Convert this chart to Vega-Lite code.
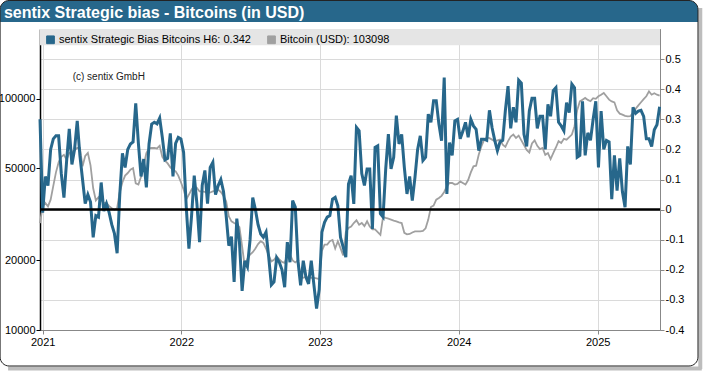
{
  "$schema": "https://vega.github.io/schema/vega-lite/v6.json",
  "background": "white",
  "width": 620,
  "height": 301,
  "autosize": {"type": "none"},
  "padding": {"left": 40, "top": 29, "right": 50, "bottom": 46},
  "config": {
    "font": "Liberation Sans",
    "view": {"stroke": "#888888"},
    "axis": {"labelFont": "Liberation Sans", "labelFontSize": 11, "labelColor": "#000000", "tickSize": 4, "labelPadding": 1, "title": null, "labelOverlap": false}
  },
  "data": {"values": [
    {"d":"2020-12-25","s":0.30,"b":29000},
    {"d":"2021-01-01","s":-0.01,"b":34200},
    {"d":"2021-01-08","s":0.11,"b":35400},
    {"d":"2021-01-15","s":0.08,"b":34200},
    {"d":"2021-01-22","s":0.20,"b":36600},
    {"d":"2021-01-29","s":0.235,"b":42000},
    {"d":"2021-02-05","s":0.245,"b":48000},
    {"d":"2021-02-12","s":0.245,"b":53000},
    {"d":"2021-02-19","s":0.12,"b":56000},
    {"d":"2021-02-26","s":0.04,"b":57200},
    {"d":"2021-03-05","s":0.16,"b":54500},
    {"d":"2021-03-12","s":0.268,"b":58200},
    {"d":"2021-03-19","s":0.15,"b":58800},
    {"d":"2021-03-26","s":0.20,"b":60000},
    {"d":"2021-04-02","s":0.295,"b":61200},
    {"d":"2021-04-09","s":0.18,"b":61200},
    {"d":"2021-04-16","s":0.10,"b":51000},
    {"d":"2021-04-23","s":0.02,"b":56500},
    {"d":"2021-04-30","s":0.05,"b":58200},
    {"d":"2021-05-07","s":0.025,"b":51500},
    {"d":"2021-05-14","s":-0.092,"b":41000},
    {"d":"2021-05-21","s":-0.02,"b":36300},
    {"d":"2021-05-28","s":-0.025,"b":37500},
    {"d":"2021-06-04","s":0.09,"b":36500},
    {"d":"2021-06-11","s":-0.005,"b":35400},
    {"d":"2021-06-18","s":0.02,"b":35400},
    {"d":"2021-06-25","s":-0.01,"b":34300},
    {"d":"2021-07-02","s":-0.05,"b":33600},
    {"d":"2021-07-09","s":-0.08,"b":33100},
    {"d":"2021-07-16","s":-0.145,"b":33600},
    {"d":"2021-07-23","s":0.05,"b":39500},
    {"d":"2021-07-30","s":0.187,"b":43500},
    {"d":"2021-08-06","s":0.14,"b":46500},
    {"d":"2021-08-13","s":0.20,"b":47700},
    {"d":"2021-08-20","s":0.218,"b":49300},
    {"d":"2021-08-27","s":0.225,"b":50100},
    {"d":"2021-09-03","s":0.353,"b":43000},
    {"d":"2021-09-10","s":0.22,"b":42500},
    {"d":"2021-09-17","s":0.11,"b":46000},
    {"d":"2021-09-24","s":0.168,"b":51500},
    {"d":"2021-10-01","s":0.074,"b":58200},
    {"d":"2021-10-08","s":0.218,"b":61000},
    {"d":"2021-10-15","s":0.284,"b":61200},
    {"d":"2021-10-22","s":0.29,"b":61200},
    {"d":"2021-10-29","s":0.285,"b":60900},
    {"d":"2021-11-05","s":0.304,"b":62600},
    {"d":"2021-11-12","s":0.24,"b":56000},
    {"d":"2021-11-19","s":0.165,"b":54000},
    {"d":"2021-11-26","s":0.17,"b":52500},
    {"d":"2021-12-03","s":0.253,"b":50500},
    {"d":"2021-12-10","s":0.11,"b":49300},
    {"d":"2021-12-17","s":0.22,"b":48500},
    {"d":"2021-12-24","s":0.24,"b":46500},
    {"d":"2021-12-31","s":0.235,"b":43500},
    {"d":"2022-01-07","s":0.19,"b":40500},
    {"d":"2022-01-14","s":0.008,"b":36700},
    {"d":"2022-01-21","s":-0.13,"b":38500},
    {"d":"2022-01-28","s":-0.02,"b":40500},
    {"d":"2022-02-04","s":0.113,"b":41800},
    {"d":"2022-02-11","s":0.02,"b":41100},
    {"d":"2022-02-18","s":-0.108,"b":39700},
    {"d":"2022-02-25","s":0.08,"b":39700},
    {"d":"2022-03-04","s":0.13,"b":39500},
    {"d":"2022-03-11","s":0.02,"b":39100},
    {"d":"2022-03-18","s":0.14,"b":39300},
    {"d":"2022-03-25","s":0.157,"b":39700},
    {"d":"2022-04-01","s":0.05,"b":40000},
    {"d":"2022-04-08","s":0.08,"b":40400},
    {"d":"2022-04-15","s":0.10,"b":39500},
    {"d":"2022-04-22","s":0.06,"b":38000},
    {"d":"2022-04-29","s":-0.02,"b":36000},
    {"d":"2022-05-06","s":-0.12,"b":31000},
    {"d":"2022-05-13","s":-0.09,"b":29500},
    {"d":"2022-05-20","s":-0.24,"b":29000},
    {"d":"2022-05-27","s":-0.03,"b":28600},
    {"d":"2022-06-03","s":-0.108,"b":27800},
    {"d":"2022-06-10","s":-0.27,"b":23000},
    {"d":"2022-06-17","s":-0.17,"b":18800},
    {"d":"2022-06-24","s":-0.19,"b":20300},
    {"d":"2022-07-01","s":-0.10,"b":21200},
    {"d":"2022-07-08","s":0.04,"b":21700},
    {"d":"2022-07-15","s":0.0,"b":22500},
    {"d":"2022-07-22","s":-0.05,"b":23500},
    {"d":"2022-07-29","s":-0.081,"b":24200},
    {"d":"2022-08-05","s":-0.092,"b":23800},
    {"d":"2022-08-12","s":-0.075,"b":22500},
    {"d":"2022-08-19","s":-0.158,"b":21000},
    {"d":"2022-08-26","s":-0.25,"b":19800},
    {"d":"2022-09-02","s":-0.24,"b":20100},
    {"d":"2022-09-09","s":-0.16,"b":20800},
    {"d":"2022-09-16","s":-0.175,"b":20200},
    {"d":"2022-09-23","s":-0.20,"b":19700},
    {"d":"2022-09-30","s":-0.258,"b":19500},
    {"d":"2022-10-07","s":-0.108,"b":21000},
    {"d":"2022-10-14","s":-0.175,"b":21200},
    {"d":"2022-10-21","s":0.03,"b":20000},
    {"d":"2022-10-28","s":0.008,"b":19600},
    {"d":"2022-11-04","s":-0.17,"b":20000},
    {"d":"2022-11-11","s":-0.252,"b":17000},
    {"d":"2022-11-18","s":-0.17,"b":16800},
    {"d":"2022-11-25","s":-0.224,"b":17000},
    {"d":"2022-12-02","s":-0.247,"b":16900},
    {"d":"2022-12-09","s":-0.17,"b":16800},
    {"d":"2022-12-16","s":-0.25,"b":16800},
    {"d":"2022-12-23","s":-0.329,"b":16700},
    {"d":"2022-12-30","s":-0.265,"b":16600},
    {"d":"2023-01-06","s":-0.075,"b":22000},
    {"d":"2023-01-13","s":-0.042,"b":23400},
    {"d":"2023-01-20","s":-0.025,"b":23400},
    {"d":"2023-01-27","s":-0.02,"b":24200},
    {"d":"2023-02-03","s":0.035,"b":24500},
    {"d":"2023-02-10","s":0.041,"b":22500},
    {"d":"2023-02-17","s":0.013,"b":24200},
    {"d":"2023-02-24","s":-0.092,"b":22600},
    {"d":"2023-03-03","s":-0.125,"b":21000},
    {"d":"2023-03-10","s":-0.158,"b":26500},
    {"d":"2023-03-17","s":0.085,"b":27600},
    {"d":"2023-03-24","s":0.113,"b":28000},
    {"d":"2023-03-31","s":0.019,"b":29000},
    {"d":"2023-04-07","s":0.273,"b":29800},
    {"d":"2023-04-14","s":0.262,"b":28500},
    {"d":"2023-04-21","s":0.12,"b":29000},
    {"d":"2023-04-28","s":0.08,"b":28100},
    {"d":"2023-05-05","s":0.135,"b":29500},
    {"d":"2023-05-12","s":0.135,"b":28000},
    {"d":"2023-05-19","s":-0.064,"b":27200},
    {"d":"2023-05-26","s":0.207,"b":27200},
    {"d":"2023-06-02","s":0.212,"b":26500},
    {"d":"2023-06-09","s":-0.014,"b":25800},
    {"d":"2023-06-16","s":-0.025,"b":30800},
    {"d":"2023-06-23","s":0.135,"b":30500},
    {"d":"2023-06-30","s":0.251,"b":30300},
    {"d":"2023-07-07","s":0.135,"b":30000},
    {"d":"2023-07-14","s":0.174,"b":29700},
    {"d":"2023-07-21","s":0.312,"b":29500},
    {"d":"2023-07-28","s":0.218,"b":29200},
    {"d":"2023-08-04","s":0.25,"b":29000},
    {"d":"2023-08-11","s":0.14,"b":26300},
    {"d":"2023-08-18","s":0.052,"b":25900},
    {"d":"2023-08-25","s":0.11,"b":26000},
    {"d":"2023-09-01","s":0.03,"b":26400},
    {"d":"2023-09-08","s":0.107,"b":26700},
    {"d":"2023-09-15","s":0.20,"b":26700},
    {"d":"2023-09-22","s":0.245,"b":26700},
    {"d":"2023-09-29","s":0.163,"b":26800},
    {"d":"2023-10-06","s":0.174,"b":27500},
    {"d":"2023-10-13","s":0.317,"b":30000},
    {"d":"2023-10-20","s":0.29,"b":34000},
    {"d":"2023-10-27","s":0.362,"b":34500},
    {"d":"2023-11-03","s":0.362,"b":36600},
    {"d":"2023-11-10","s":0.284,"b":37200},
    {"d":"2023-11-17","s":0.229,"b":38000},
    {"d":"2023-11-24","s":0.439,"b":39500},
    {"d":"2023-12-01","s":0.052,"b":41800},
    {"d":"2023-12-08","s":0.223,"b":43200},
    {"d":"2023-12-15","s":0.18,"b":43200},
    {"d":"2023-12-22","s":0.295,"b":42500},
    {"d":"2023-12-29","s":0.30,"b":42800},
    {"d":"2024-01-05","s":0.235,"b":43900},
    {"d":"2024-01-12","s":0.26,"b":43200},
    {"d":"2024-01-19","s":0.29,"b":42500},
    {"d":"2024-01-26","s":0.24,"b":44500},
    {"d":"2024-02-02","s":0.30,"b":48000},
    {"d":"2024-02-09","s":0.278,"b":51000},
    {"d":"2024-02-16","s":0.267,"b":51300},
    {"d":"2024-02-23","s":0.196,"b":57300},
    {"d":"2024-03-01","s":0.234,"b":62300},
    {"d":"2024-03-08","s":0.234,"b":66300},
    {"d":"2024-03-15","s":0.23,"b":68000},
    {"d":"2024-03-22","s":0.33,"b":67500},
    {"d":"2024-03-29","s":0.272,"b":66500},
    {"d":"2024-04-05","s":0.23,"b":65500},
    {"d":"2024-04-12","s":0.196,"b":66000},
    {"d":"2024-04-19","s":0.225,"b":66500},
    {"d":"2024-04-26","s":0.23,"b":63200},
    {"d":"2024-05-03","s":0.33,"b":61900},
    {"d":"2024-05-10","s":0.41,"b":65500},
    {"d":"2024-05-17","s":0.27,"b":68500},
    {"d":"2024-05-24","s":0.34,"b":69900},
    {"d":"2024-05-31","s":0.29,"b":67600},
    {"d":"2024-06-07","s":0.43,"b":69200},
    {"d":"2024-06-14","s":0.42,"b":66000},
    {"d":"2024-06-21","s":0.25,"b":63000},
    {"d":"2024-06-28","s":0.21,"b":60000},
    {"d":"2024-07-05","s":0.328,"b":58500},
    {"d":"2024-07-12","s":0.37,"b":64000},
    {"d":"2024-07-19","s":0.37,"b":66000},
    {"d":"2024-07-26","s":0.27,"b":62500},
    {"d":"2024-08-02","s":0.31,"b":60500},
    {"d":"2024-08-09","s":0.31,"b":61200},
    {"d":"2024-08-16","s":0.20,"b":57200},
    {"d":"2024-08-23","s":0.35,"b":58200},
    {"d":"2024-08-30","s":0.31,"b":54800},
    {"d":"2024-09-06","s":0.395,"b":58200},
    {"d":"2024-09-13","s":0.405,"b":61500},
    {"d":"2024-09-20","s":0.29,"b":65500},
    {"d":"2024-09-27","s":0.278,"b":64300},
    {"d":"2024-10-04","s":0.262,"b":67000},
    {"d":"2024-10-11","s":0.355,"b":66500},
    {"d":"2024-10-18","s":0.322,"b":68200},
    {"d":"2024-10-25","s":0.417,"b":69900},
    {"d":"2024-11-01","s":0.405,"b":76000},
    {"d":"2024-11-08","s":0.174,"b":89000},
    {"d":"2024-11-15","s":0.18,"b":97300},
    {"d":"2024-11-22","s":0.36,"b":99000},
    {"d":"2024-11-29","s":0.18,"b":100700},
    {"d":"2024-12-06","s":0.255,"b":98800},
    {"d":"2024-12-13","s":0.23,"b":97500},
    {"d":"2024-12-20","s":0.30,"b":100500},
    {"d":"2024-12-27","s":0.36,"b":99800},
    {"d":"2025-01-03","s":0.14,"b":102400},
    {"d":"2025-01-10","s":0.327,"b":104000},
    {"d":"2025-01-17","s":0.20,"b":105800},
    {"d":"2025-01-24","s":0.23,"b":102400},
    {"d":"2025-01-31","s":0.225,"b":99000},
    {"d":"2025-02-07","s":0.035,"b":97300},
    {"d":"2025-02-14","s":0.18,"b":96400},
    {"d":"2025-02-21","s":0.063,"b":89000},
    {"d":"2025-02-28","s":0.17,"b":86100},
    {"d":"2025-03-07","s":0.06,"b":85300},
    {"d":"2025-03-14","s":0.008,"b":84200},
    {"d":"2025-03-21","s":0.21,"b":83800},
    {"d":"2025-03-28","s":0.15,"b":84000},
    {"d":"2025-04-04","s":0.34,"b":86800},
    {"d":"2025-04-11","s":0.32,"b":90500},
    {"d":"2025-04-18","s":0.327,"b":93500},
    {"d":"2025-04-25","s":0.33,"b":96500},
    {"d":"2025-05-02","s":0.31,"b":99500},
    {"d":"2025-05-09","s":0.235,"b":102400},
    {"d":"2025-05-16","s":0.235,"b":107500},
    {"d":"2025-05-23","s":0.21,"b":104000},
    {"d":"2025-05-30","s":0.265,"b":105500},
    {"d":"2025-06-06","s":0.282,"b":104000},
    {"d":"2025-06-13","s":0.342,"b":103098}
  ]},
  "layer": [
    {
      "mark": {"type": "line", "strokeWidth": 1.8},
      "encoding": {
        "x": {
          "field": "d", "type": "temporal",
          "scale": {"domain": [{"year": 2020, "month": 12, "date": 25}, {"year": 2025, "month": 6, "date": 14}]},
          "axis": {
            "values": [{"year": 2021, "month": 1, "date": 1}, {"year": 2022, "month": 1, "date": 1}, {"year": 2023, "month": 1, "date": 1}, {"year": 2024, "month": 1, "date": 1}, {"year": 2025, "month": 1, "date": 1}],
            "tickCount": 20,
            "format": "%Y", "grid": true, "gridColor": "#dadada", "domainColor": "#888888", "tickColor": "#888888", "labelFlush": false, "labelPadding": 2, "labelOverlap": false
          }
        },
        "y": {
          "field": "b", "type": "quantitative",
          "scale": {"type": "log", "domain": [10000, 200000], "nice": false},
          "axis": {"orient": "left", "values": [10000, 20000, 50000, 100000], "tickCount": 20, "format": "d", "grid": false, "domainColor": "#000000", "domainWidth": 1.5, "tickColor": "#000000", "labelOverlap": false}
        },
        "color": {
          "datum": "Bitcoin (USD): 103098", "type": "nominal",
          "scale": {"domain": ["sentix Strategic Bias Bitcoins H6: 0.342", "Bitcoin (USD): 103098"], "range": ["#27678b", "#a0a0a0"]},
          "legend": {
            "title": null, "orient": "top-left", "offset": 5, "padding": 0, "direction": "horizontal",
            "labelFont": "Liberation Sans", "labelFontSize": 11, "labelColor": "#000000", "labelLimit": 400,
            "symbolType": "square", "symbolSize": 60, "columnPadding": 14, "labelOffset": 3,
            "symbolStrokeColor": "#333333", "symbolStrokeWidth": 1,
            "encode": {"symbols": {"update": {"fill": {"signal": "datum.value == 'Bitcoin (USD): 103098' ? '#a0a0a0' : '#27678b'"}, "stroke": {"value": "#333333"}, "strokeWidth": {"value": 1}, "opacity": {"value": 1}}}}
          }
        }
      }
    },
    {
      "layer": [
        {
          "mark": {"type": "line", "strokeWidth": 3},
          "encoding": {
            "x": {"field": "d", "type": "temporal"},
            "y": {
              "field": "s", "type": "quantitative",
              "scale": {"domain": [-0.4, 0.6], "nice": false, "zero": false},
              "axis": {"orient": "right", "values": [-0.4, -0.3, -0.2, -0.1, 0, 0.1, 0.2, 0.3, 0.4, 0.5], "tickCount": 20, "labelExpr": "replace(format(datum.value, '.1~f'), '\u2212', '-')", "labelOverlap": false, "grid": true, "gridColor": "#dadada", "domainColor": "#888888", "tickColor": "#888888"}
            },
            "color": {"datum": "sentix Strategic Bias Bitcoins H6: 0.342", "type": "nominal"}
          }
        },
        {
          "data": {"values": [{}]},
          "mark": {"type": "rule", "color": "#bdbdbd", "strokeWidth": 4, "strokeCap": "butt"},
          "encoding": {
            "x": {"datum": {"year": 2025, "month": 9, "date": 28}, "type": "temporal"},
            "y": {"datum": 0.6698, "type": "quantitative"},
            "y2": {"datum": -0.5296}
          }
        },
        {
          "data": {"values": [{}]},
          "mark": {"type": "rule", "color": "#bdbdbd", "strokeWidth": 4, "strokeCap": "butt"},
          "encoding": {
            "x": {"datum": {"year": 2020, "month": 10, "date": 2}, "type": "temporal"},
            "x2": {"datum": {"year": 2025, "month": 10, "date": 2}},
            "y": {"datum": -0.5279, "type": "quantitative"}
          }
        },
        {
          "data": {"values": [{}]},
          "mark": {"type": "rect", "color": "#27678b", "cornerRadiusTopLeft": 9, "cornerRadiusTopRight": 9},
          "encoding": {
            "x": {"datum": {"year": 2020, "month": 9, "date": 11}, "type": "temporal"},
            "x2": {"datum": {"year": 2025, "month": 9, "date": 22}},
            "y": {"datum": 0.6947, "type": "quantitative"},
            "y2": {"datum": 0.6233}
          }
        },
        {
          "data": {"values": [{}]},
          "mark": {"type": "rect", "filled": false, "color": "#222222", "strokeWidth": 1, "cornerRadius": 9},
          "encoding": {
            "x": {"datum": {"year": 2020, "month": 9, "date": 11}, "type": "temporal"},
            "x2": {"datum": {"year": 2025, "month": 9, "date": 22}},
            "y": {"datum": 0.6947, "type": "quantitative"},
            "y2": {"datum": -0.5196}
          }
        },
        {
          "data": {"values": [{}]},
          "mark": {"type": "text", "align": "left", "baseline": "alphabetic", "fontSize": 16, "fontWeight": "bold", "color": "#ffffff", "font": "Liberation Sans"},
          "encoding": {
            "x": {"datum": {"year": 2020, "month": 9, "date": 21}, "type": "temporal"},
            "y": {"datum": 0.6382, "type": "quantitative"},
            "text": {"value": "sentix Strategic bias - Bitcoins (in USD)"}
          }
        },
        {
          "data": {"values": [{}]},
          "mark": {"type": "rect", "color": "#e5e5e5"},
          "encoding": {"y": {"datum": 0.6, "type": "quantitative"}, "y2": {"datum": 0.546}}
        },
        {
          "data": {"values": [{}]},
          "mark": {"type": "text", "align": "left", "baseline": "middle", "fontSize": 10, "color": "#222222", "font": "Liberation Sans"},
          "encoding": {
            "x": {"datum": {"year": 2021, "month": 3, "date": 21}, "type": "temporal"},
            "y": {"datum": 0.441, "type": "quantitative"},
            "text": {"value": "(c) sentix GmbH"}
          }
        },
        {
          "data": {"values": [{}]},
          "mark": {"type": "rule", "color": "#000000", "strokeWidth": 2.5},
          "encoding": {"y": {"datum": 0, "type": "quantitative"}}
        }
      ]
    }
  ],
  "resolve": {"scale": {"y": "independent"}}
}
